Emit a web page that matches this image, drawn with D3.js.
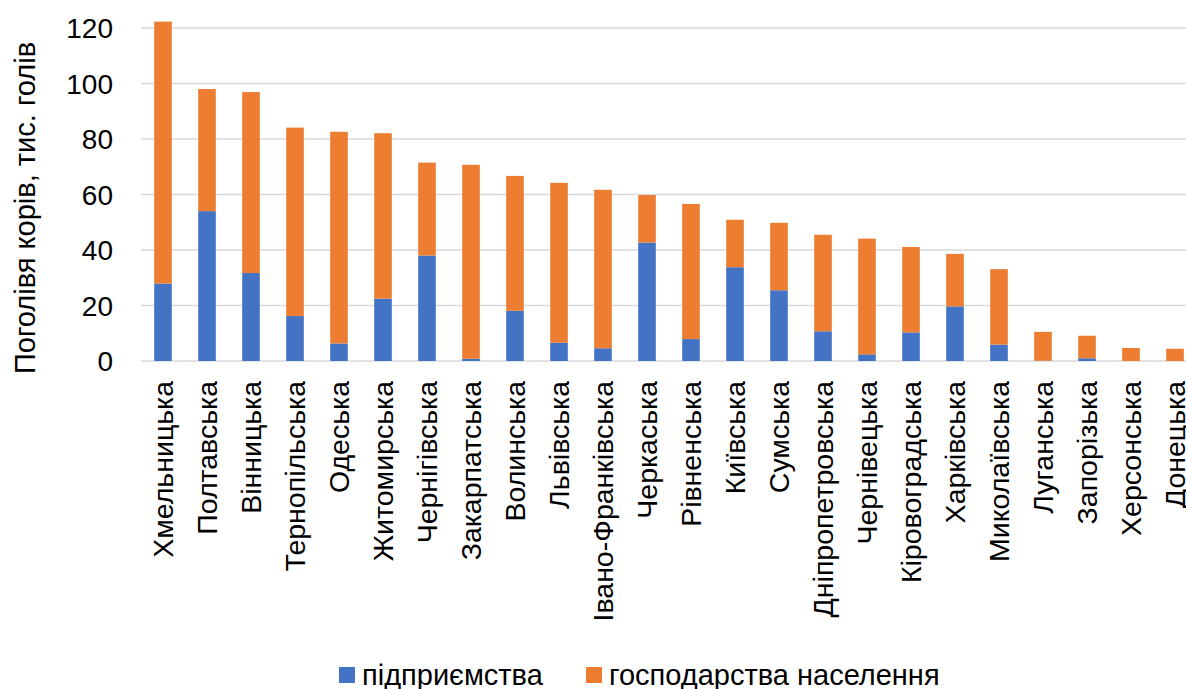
<!DOCTYPE html>
<html>
<head>
<meta charset="utf-8">
<script src="https://cdn.jsdelivr.net/npm/d3@7"></script>
<style>
  body { margin: 0; background: #fff; }
  text { font-family: "Liberation Sans", Arial, sans-serif; fill: #000; }
</style>
</head>
<body>
<svg id="chart" width="1186" height="689"></svg>
<script>
// regions, sorted by total herd
const regions = ["Хмельницька", "Полтавська", "Вінницька", "Тернопільська", "Одеська", "Житомирська",
  "Чернігівська", "Закарпатська", "Волинська", "Львівська", "Івано-Франківська", "Черкаська",
  "Рівненська", "Київська", "Сумська", "Дніпропетровська", "Чернівецька", "Кіровоградська",
  "Харківська", "Миколаївська", "Луганська", "Запорізька", "Херсонська", "Донецька"];
// підприємства, тис. голів
const enterprises = [27.9, 54.0, 31.7, 16.2, 6.3, 22.5, 38.0, 0.8, 18.1, 6.6, 4.6, 42.7,
  7.9, 33.8, 25.5, 10.7, 2.4, 10.3, 19.7, 5.9, 0.1, 1.0, 0, 0];
// господарства населення, тис. голів
const households = [94.4, 44.0, 65.2, 67.9, 76.3, 59.6, 33.5, 69.9, 48.6, 57.6, 57.1, 17.1,
  48.7, 17.1, 24.3, 34.8, 41.7, 30.8, 18.9, 27.2, 10.4, 8.1, 4.7, 4.4];
const yTicks = [0, 20, 40, 60, 80, 100, 120];
const seriesNames = ["підприємства", "господарства населення"];
const colors = ["#4472C4", "#ED7D31"];

const svg = d3.select("#chart");
const fontSize = 28;

const x = d3.scaleBand()
  .domain(regions)
  .range([141, 1197])
  .paddingInner(0.6)
  .paddingOuter(0.3);

const y = d3.scaleLinear()
  .domain([0, 120])
  .range([361, 28]);

// gridlines
svg.append("g").selectAll("line")
  .data(yTicks)
  .enter().append("line")
  .attr("x1", 141).attr("x2", 1197)
  .attr("y1", d => y(d)).attr("y2", d => y(d))
  .attr("stroke", "#d9d9d9")
  .attr("stroke-width", 1.3);

// y tick labels
svg.append("g").selectAll("text")
  .data(yTicks)
  .enter().append("text")
  .attr("x", 113)
  .attr("y", d => y(d))
  .attr("dy", "0.36em")
  .attr("text-anchor", "end")
  .style("font-size", fontSize + "px")
  .text(d => d);

// stacked bars
const table = regions.map((r, i) => ({region: r, a: enterprises[i], b: households[i]}));
const stacked = d3.stack().keys(["a", "b"])(table);

svg.append("g").selectAll("g")
  .data(stacked)
  .enter().append("g")
  .attr("fill", (d, i) => colors[i])
  .selectAll("rect")
  .data(d => d)
  .enter().append("rect")
  .attr("x", d => x(d.data.region))
  .attr("width", x.bandwidth())
  .attr("y", d => y(d[1]))
  .attr("height", d => y(d[0]) - y(d[1]));

// category labels, rotated
svg.append("g").selectAll("text")
  .data(regions)
  .enter().append("text")
  .attr("transform", d => "translate(" + (x(d) + x.bandwidth() / 2) + ",381) rotate(-90)")
  .attr("dy", "0.36em")
  .attr("text-anchor", "end")
  .style("font-size", "28.5px")
  .text(d => d);

// y axis title
svg.append("text")
  .attr("transform", "translate(25,208) rotate(-90)")
  .attr("dy", "0.36em")
  .attr("text-anchor", "middle")
  .style("font-size", "29px")
  .text("Поголівя корів, тис. голів");

// legend
const legendX = [339, 586];
const legend = svg.append("g").selectAll("g")
  .data(seriesNames)
  .enter().append("g")
  .attr("transform", (d, i) => "translate(" + legendX[i] + ",667)");
legend.append("rect")
  .attr("width", 16).attr("height", 16)
  .attr("fill", (d, i) => colors[i]);
legend.append("text")
  .attr("x", 23)
  .attr("y", 8)
  .attr("dy", "0.36em")
  .style("font-size", "29px")
  .text(d => d);
</script>
</body>
</html>
